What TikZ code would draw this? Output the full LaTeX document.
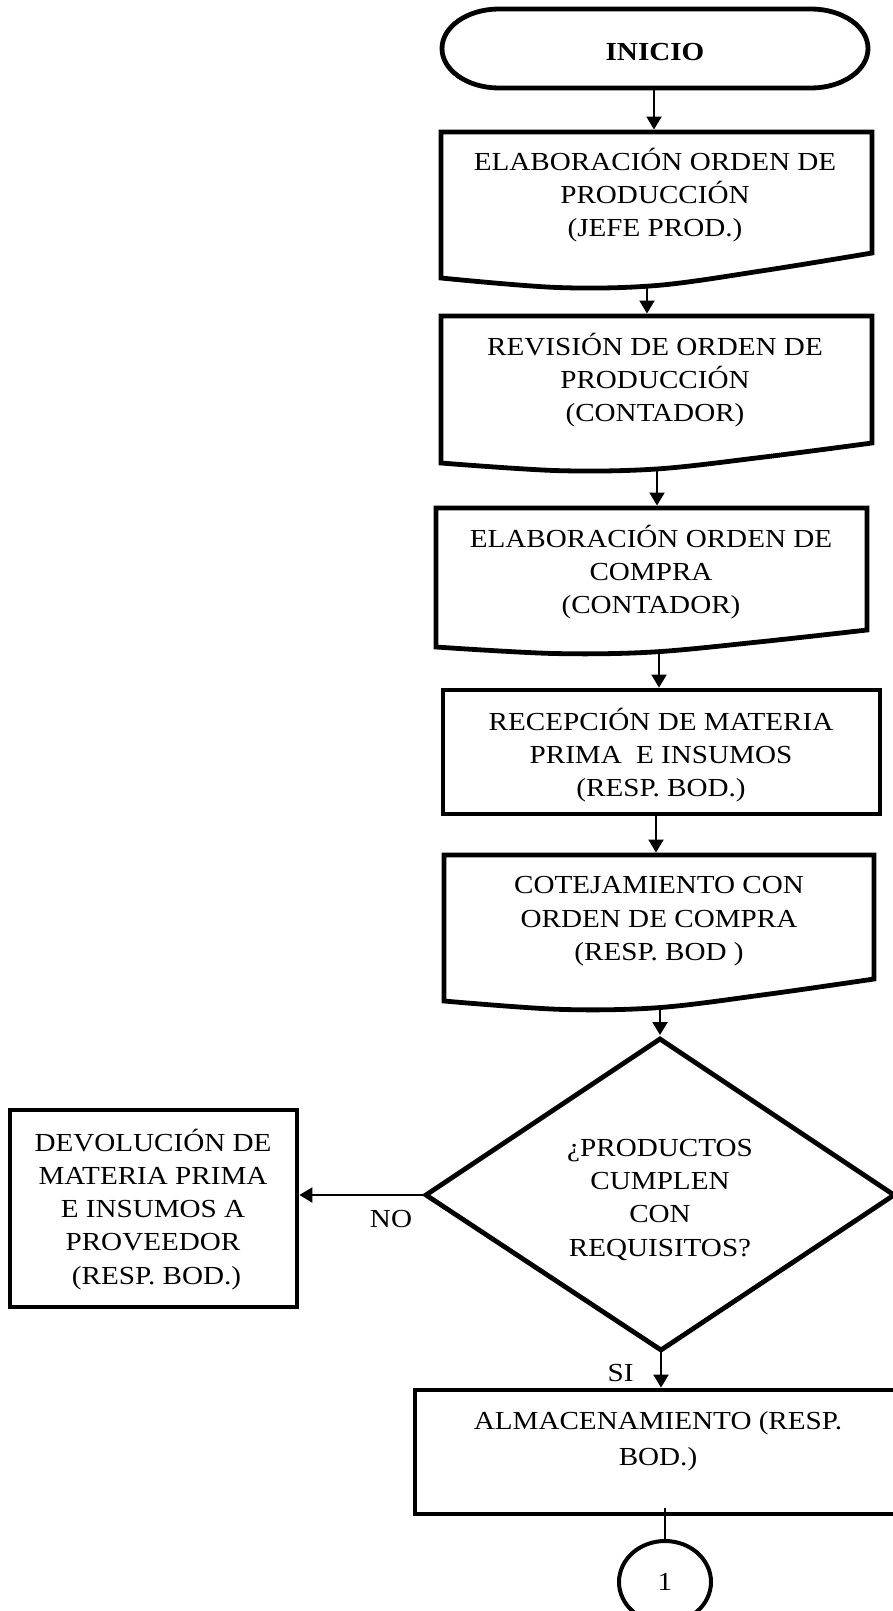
\documentclass[tikz,border=0pt]{standalone}
\usepackage{fontspec}
\setmainfont{Liberation Serif}[FakeStretch=1.12]
\usetikzlibrary{arrows.meta,shapes.geometric}

% Document-style process box: left x, top y, right x, bottom-left y, bottom-right y
\newcommand\DocPath[5]{%
  \pgfmathsetmacro\DPxa{#1+0.75*(#3-#1)}%
  \pgfmathsetmacro\DPya{#4-0.3*(#4-#5)}%
  \pgfmathsetmacro\DPxb{#1+0.5*(#3-#1)}%
  \pgfmathsetmacro\DPyb{#4+0.3*(#4-#5)}%
  \pgfmathsetmacro\DPxc{#1+0.27*(#3-#1)}%
  \pgfmathsetmacro\DPyc{#4+0.38*(#4-#5)}%
  \draw[shapeline] (#1,#2) -- (#3,#2)
    -- plot[smooth,tension=0.55] coordinates {(#3,#5) (\DPxa,\DPya) (\DPxb,\DPyb) (\DPxc,\DPyc) (#1,#4)}
    -- cycle;}

\begin{document}
\begin{tikzpicture}[x=1pt,y=-1pt,
  shapeline/.style={draw=black,line width=4.8pt,line join=miter},
  flow/.style={draw=black,line width=2.2pt,-{Triangle[length=13pt,width=15pt]}},
  connline/.style={draw=black,line width=2pt},
  txt/.style={font=\fontsize{26}{33.3}\selectfont,align=center,inner sep=0pt},
  boxnode/.style={rectangle,draw=black,line width=4.8pt,inner sep=0pt,outer sep=2.4pt},
]
\fill[white] (0,0) rectangle (893,1611);
\useasboundingbox (0,0) rectangle (893,1611);

% start terminal
\draw[shapeline] (499,9) -- (811,9)
  .. controls (842.5,9) and (868,26.7) .. (868,48.5)
  .. controls (868,70.3) and (842.5,88) .. (811,88)
  -- (499,88)
  .. controls (467.5,88) and (442,70.3) .. (442,48.5)
  .. controls (442,26.7) and (467.5,9) .. (499,9) -- cycle;
\node[txt,font=\fontsize{26}{33.3}\selectfont\bfseries] (inicio) at (655,52) {INICIO};

% document steps
\DocPath{441}{132}{872}{278}{253}
\node[txt] (t1) at (655,197) {\strut ELABORACIÓN ORDEN DE\\PRODUCCIÓN\\(JEFE PROD.)\strut};

\DocPath{441}{316}{872}{463}{443}
\node[txt] (t2) at (655,382) {\strut REVISIÓN DE ORDEN DE\\PRODUCCIÓN\\(CONTADOR)\strut};

\DocPath{436}{508}{867}{647}{630}
\node[txt] (t3) at (651,574) {\strut ELABORACIÓN ORDEN DE\\COMPRA\\(CONTADOR)\strut};

\node[boxnode,minimum width=437pt,minimum height=124pt] (b4) at (661.5,752) {};
\node[txt] (t4) at (661,757) {\strut RECEPCIÓN DE MATERIA\\PRIMA\hspace*{7pt} E INSUMOS\\(RESP. BOD.)\strut};

\DocPath{444}{855}{874}{1001}{979}
\node[txt] (t5) at (659,920.5) {\strut COTEJAMIENTO CON\\ORDEN DE COMPRA\\(RESP. BOD )\strut};

% decision
\coordinate (dtop) at (660,1039);
\coordinate (dright) at (894,1195);
\coordinate (dbot) at (661,1350);
\coordinate (dleft) at (426,1195);
\draw[shapeline] (dtop) -- (dright) -- (dbot) -- (dleft) -- cycle;
\node[txt] (dq) at (660,1199.5) {\strut ¿PRODUCTOS\\CUMPLEN\\CON\\REQUISITOS?\strut};

% return to supplier
\node[boxnode,minimum width=287pt,minimum height=197pt] (dev) at (153.5,1208.5) {};
\node[txt] (devtxt) at (153,1211) {\strut DEVOLUCIÓN DE\\MATERIA PRIMA\\E INSUMOS A\\PROVEEDOR\\\hspace*{7pt}(RESP. BOD.)\strut};

% storage
\node[boxnode,minimum width=485pt,minimum height=124pt] (alm) at (657.5,1452) {};
\node[txt,font=\fontsize{26}{36}\selectfont] (almtxt) at (658,1440) {\strut ALMACENAMIENTO (RESP.\\BOD.)\strut};

% off-page connector
\node[ellipse,draw=black,line width=4pt,minimum width=92pt,minimum height=82pt,inner sep=0pt,
      font=\fontsize{26}{33.3}\selectfont] (conn) at (665,1582) {1};

% connector end points on the document shapes
\coordinate (s0) at (654,88);
\coordinate (e0) at (654,129.5);
\coordinate (s1) at (647,285);
\coordinate (e1) at (647,313.5);
\coordinate (s2) at (657,469);
\coordinate (e2) at (657,505.5);
\coordinate (s3) at (659,651);
\coordinate (s4) at (656,814);
\coordinate (e4) at (656,852.5);
\coordinate (s5) at (660,1007);
\coordinate (e5) at (660,1035);
\coordinate (s6) at (665,1508);

% flow lines
\draw[flow] (s0) -- (e0);
\draw[flow] (s1) -- (e1);
\draw[flow] (s2) -- (e2);
\draw[flow] (s3) -- (b4.north -| s3);
\draw[flow] (b4.south -| s4) -- (e4);
\draw[flow] (s5) -- (e5);
\draw[flow] (dbot) -- (alm.north -| dbot);
\draw[flow] (dleft) -- (dev.east |- dleft);
\draw[connline] (s6) -- (conn.north);

% branch labels
\node[txt] (no) at (391,1219) {NO};
\node[txt] (si) at (620.5,1373) {SI};
\end{tikzpicture}
\end{document}
